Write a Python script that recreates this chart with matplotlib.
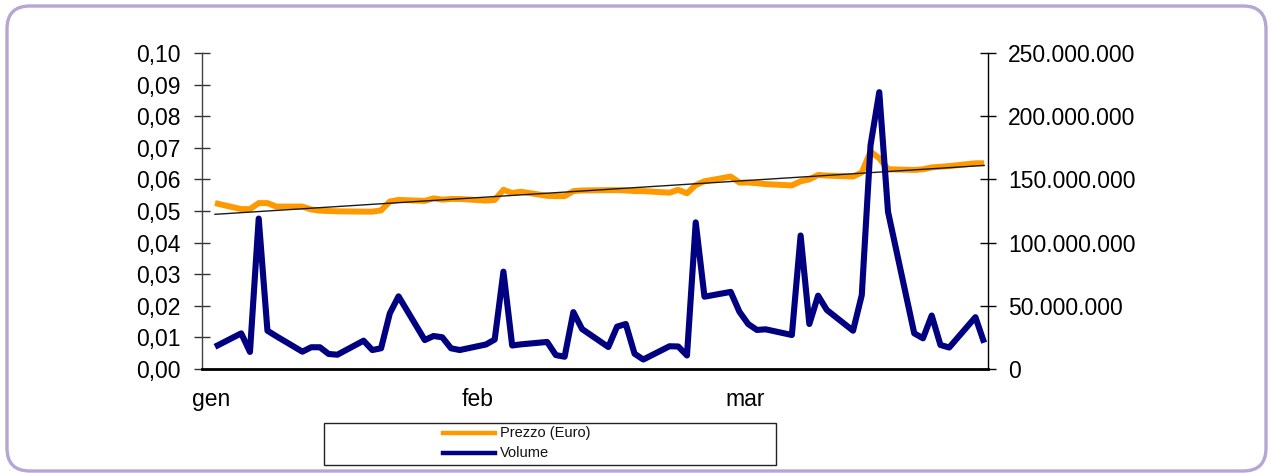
import numpy as np
import matplotlib
matplotlib.use("Agg")
import matplotlib.pyplot as plt
from matplotlib.lines import Line2D
from matplotlib.patches import Rectangle, FancyBboxPatch
from matplotlib.ticker import FixedLocator, FuncFormatter

plt.rcParams['font.family'] = ['Liberation Sans', 'DejaVu Sans']

# ---- data (trading-day offsets from first date) ----
days = [0, 3, 4, 5, 6, 7, 10, 11, 12, 13, 14, 17, 18, 19, 20, 21,
        24, 25, 26, 27, 28, 31, 32, 33, 34, 35, 38, 39, 40, 41, 42,
        45, 46, 47, 48, 49, 52, 53, 54, 55, 56, 59, 60, 61, 62, 63,
        66, 67, 68, 69, 70, 73, 74, 75, 76, 77, 80, 81, 82, 83, 84, 87, 88]

prezzo = [0.0525, 0.0506, 0.0506, 0.0525, 0.0525, 0.0514,
          0.0514, 0.0505, 0.0501, 0.0500, 0.0499,
          0.0498, 0.0498, 0.0502, 0.0530, 0.0535,
          0.0532, 0.0540, 0.0536, 0.0538, 0.0538,
          0.0533, 0.0535, 0.0567, 0.0557, 0.0561,
          0.0548, 0.0547, 0.0547, 0.0563, 0.0565,
          0.0566, 0.0566, 0.0565, 0.0563, 0.0563,
          0.0558, 0.0567, 0.0556, 0.0582, 0.0594,
          0.0609, 0.0590, 0.0590, 0.0588, 0.0585,
          0.0581, 0.0594, 0.0600, 0.0614, 0.0612,
          0.0609, 0.0622, 0.0688, 0.0667, 0.0632,
          0.0630, 0.0632, 0.0638, 0.0640, 0.0642,
          0.0651, 0.0651]

volume = [17.6e6, 28.2e6, 13.5e6, 119e6, 30.3e6, 26e6,
          13.7e6, 17.2e6, 17.2e6, 11.9e6, 11.3e6,
          22.4e6, 15e6, 16.4e6, 44e6, 57.5e6,
          22.9e6, 26.1e6, 25.1e6, 16.4e6, 15e6,
          19.4e6, 23.3e6, 77e6, 18.6e6, 19.5e6,
          21.4e6, 11e6, 9.7e6, 45e6, 31.6e6,
          17.4e6, 33.5e6, 35.6e6, 12.1e6, 7.5e6,
          18e6, 17.8e6, 10.7e6, 116e6, 57.2e6,
          61e6, 45.3e6, 35.6e6, 30.9e6, 31.4e6,
          26.9e6, 105.6e6, 35.6e6, 58e6, 46.7e6,
          30.3e6, 58.5e6, 177e6, 219e6, 124.4e6,
          28.2e6, 24.3e6, 42.3e6, 19e6, 17e6,
          41e6, 20.8e6]

month_labels = ['gen', 'feb', 'mar']
month_pos = [-0.5, 30.1, 60.7]

left_ticks = [0.00, 0.01, 0.02, 0.03, 0.04, 0.05, 0.06, 0.07, 0.08, 0.09, 0.10]
right_ticks = [0, 50e6, 100e6, 150e6, 200e6, 250e6]

ORANGE = '#FF9900'
NAVY = '#000080'
BORDER = '#B5A6D3'

W, H = 1271, 473
fig = plt.figure(figsize=(W / 100, H / 100), dpi=100)
fig.patch.set_facecolor('white')

def fx(px):
    return px / W

def fy(py):
    return 1 - py / H

# outer rounded border
border = FancyBboxPatch((fx(7), fy(471)), fx(1266) - fx(7), fy(6) - fy(471),
                        boxstyle="round,pad=0,rounding_size=0.018",
                        transform=fig.transFigure, facecolor='none',
                        edgecolor=BORDER, linewidth=2.4, zorder=-5,
                        mutation_aspect=W / H)
fig.patches.append(border)

ax_l, ax_r, ax_t, ax_b = 201.5, 988, 53, 369
ax = fig.add_axes([fx(ax_l), fy(ax_b), fx(ax_r) - fx(ax_l), fy(ax_t) - fy(ax_b)])
ax.patch.set_alpha(0)
ax2 = ax.twinx()
ax2.patch.set_alpha(0)

d = np.array(days, dtype=float)
p = np.array(prezzo)
ax.plot(d, p, color=ORANGE, lw=4.3, solid_joinstyle='round', solid_capstyle='butt', zorder=2)
coef = np.polyfit(d, p, 1)
ax.plot([d[0], d[-1]], np.polyval(coef, [d[0], d[-1]]), color='#1a1a1a', lw=1.0, zorder=3)

ax2.plot(d, volume, color=NAVY, lw=4.4, solid_joinstyle='round', solid_capstyle='butt', zorder=2)

ax.set_xlim(-1.545, 88.44)
ax.set_ylim(0, 0.10)
ax2.set_ylim(0, 250e6)

ax.yaxis.set_major_locator(FixedLocator(left_ticks))
ax.yaxis.set_major_formatter(FuncFormatter(lambda v, _: f"{v:.2f}".replace('.', ',')))
ax2.yaxis.set_major_locator(FixedLocator(right_ticks))
ax2.yaxis.set_major_formatter(FuncFormatter(lambda v, _: f"{int(round(v)):,}".replace(',', '.')))

ax.set_xticks(month_pos)
ax.set_xticklabels(month_labels)
ax.tick_params(axis='x', length=0, pad=14, labelsize=16.5)
ax.tick_params(axis='y', direction='inout', length=11, width=1.0, pad=9.5,
               labelsize=16.5, color='#333333')
ax2.tick_params(axis='y', direction='inout', length=11, width=1.0, pad=9,
                labelsize=16.5, color='black')

for s in ['top']:
    ax.spines[s].set_visible(False)
    ax2.spines[s].set_visible(False)
ax2.spines['left'].set_visible(False)
ax2.spines['bottom'].set_visible(False)
ax.spines['right'].set_visible(False)
ax.spines['left'].set_color('#404040')
ax.spines['left'].set_linewidth(1.0)
ax2.spines['right'].set_color('black')
ax2.spines['right'].set_linewidth(1.0)
ax.spines['bottom'].set_color('black')
ax.spines['bottom'].set_linewidth(2.0)

# legend box (drawn manually to match the framed layout)
leg_box = Rectangle((fx(324), fy(465)), fx(776) - fx(324), fy(423) - fy(465),
                    transform=fig.transFigure, facecolor='white',
                    edgecolor='#222222', linewidth=1.0, zorder=5)
fig.patches.append(leg_box)
entries = [("Prezzo (Euro)", ORANGE, 433), ("Volume", NAVY, 453)]
for label, col, py in entries:
    fig.lines.append(Line2D([fx(443), fx(495)], [fy(py), fy(py)], transform=fig.transFigure,
                            color=col, lw=3.2, zorder=6))
    fig.text(fx(500), fy(py), label, fontsize=10.5, va='center', ha='left',
             color='#111111', zorder=6)

fig.savefig('out.png', dpi=100, facecolor='white')
